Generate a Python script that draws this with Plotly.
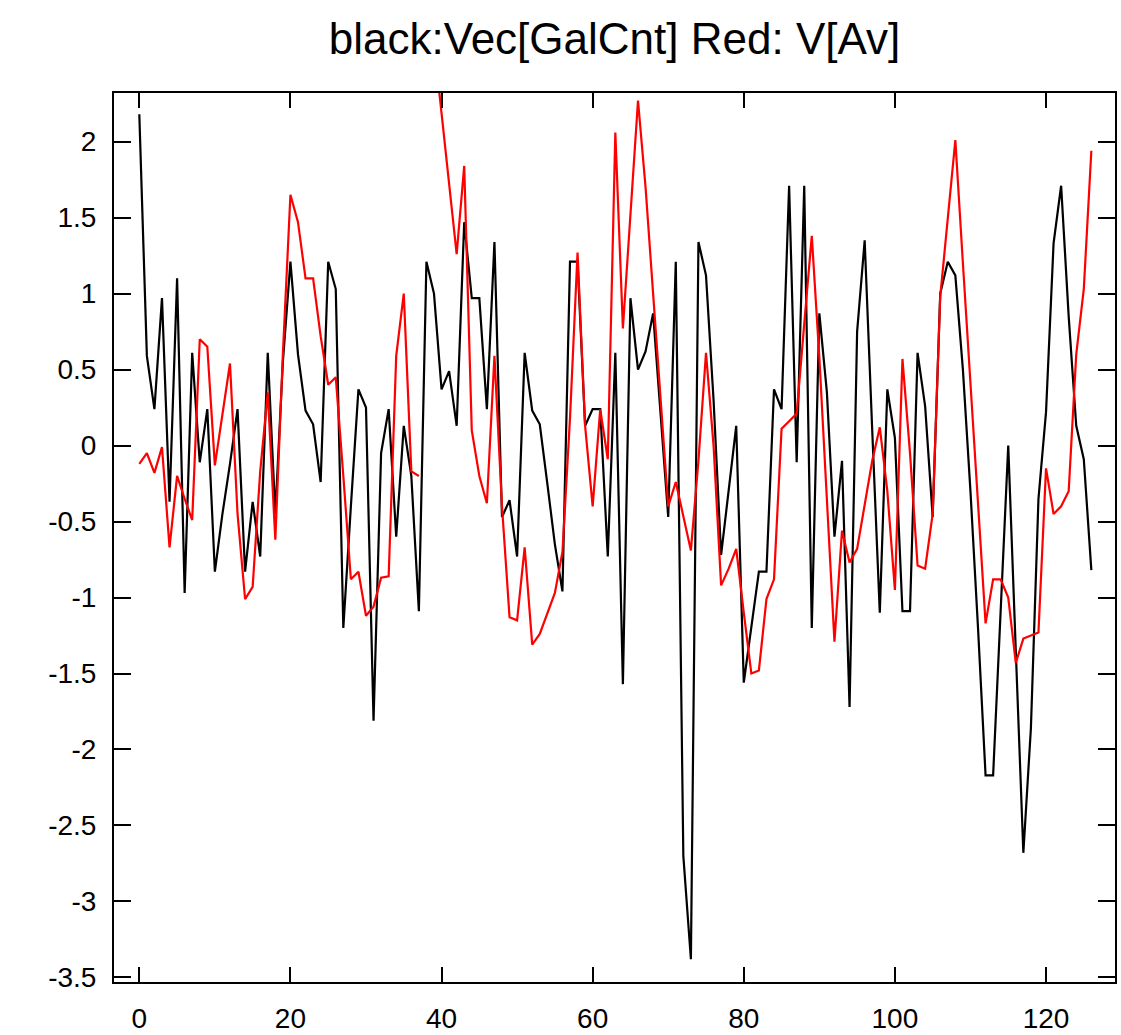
import plotly.graph_objects as go

# x positions (index of each sample)
n_points = 127
x_index = list(range(n_points))

# black: Vec[GalCnt]
vec_galcnt = [
    2.18, 0.59, 0.24, 0.97, -0.37, 1.10, -0.97, 0.61, -0.11, 0.24,
    -0.83, -0.45, -0.12, 0.24, -0.83, -0.37, -0.73, 0.61, -0.45, 0.55,
    1.21, 0.60, 0.23, 0.14, -0.24, 1.21, 1.03, -1.20, -0.40, 0.37,
    0.25, -1.81, -0.05, 0.24, -0.60, 0.13, -0.20, -1.09, 1.21, 1.00,
    0.37, 0.49, 0.13, 1.47, 0.97, 0.97, 0.24, 1.34, -0.47, -0.36,
    -0.73, 0.61, 0.23, 0.14, -0.25, -0.65, -0.96, 1.21, 1.21, 0.13,
    0.24, 0.24, -0.73, 0.61, -1.57, 0.97, 0.50, 0.62, 0.87, 0.22,
    -0.47, 1.21, -2.70, -3.38, 1.34, 1.12, 0.30, -0.72, -0.30, 0.13,
    -1.56, -1.20, -0.83, -0.83, 0.37, 0.24, 1.71, -0.11, 1.71, -1.20,
    0.87, 0.35, -0.60, -0.10, -1.72, 0.75, 1.35, 0.10, -1.10, 0.37,
    0.05, -1.09, -1.09, 0.61, 0.26, -0.47, 1.00, 1.21, 1.12, 0.50,
    -0.30, -1.20, -2.17, -2.17, -1.10, 0.00, -1.35, -2.68, -1.86, -0.35,
    0.22, 1.33, 1.71, 0.85, 0.13, -0.09, -0.82,
]

# red: V[Av]  (None = missing sample, drawn as a gap)
v_av = [
    -0.12, -0.05, -0.18, -0.01, -0.67, -0.20, -0.35, -0.49, 0.70, 0.65,
    -0.13, 0.20, 0.54, -0.45, -1.01, -0.93, -0.17, 0.35, -0.62, 0.60,
    1.65, 1.47, 1.10, 1.10, 0.72, 0.40, 0.45, -0.20, -0.88, -0.83,
    -1.12, -1.06, -0.87, -0.86, 0.59, 1.00, -0.17, -0.20, None, 2.65,
    2.19, 1.73, 1.26, 1.84, 0.10, -0.20, -0.38, 0.59, -0.40, -1.13,
    -1.15, -0.67, -1.31, -1.24, -1.10, -0.97, -0.70, 0.18, 1.27, 0.13,
    -0.40, 0.24, -0.09, 2.06, 0.77, 1.55, 2.27, 1.70, 1.00, 0.25,
    -0.40, -0.24, -0.46, -0.69, -0.10, 0.61, 0.00, -0.92, -0.81, -0.68,
    -1.10, -1.50, -1.48, -1.01, -0.88, 0.11, 0.16, 0.21, 0.80, 1.38,
    0.58, -0.32, -1.29, -0.56, -0.77, -0.68, -0.38, -0.10, 0.12, -0.30,
    -0.95, 0.57, -0.05, -0.79, -0.81, -0.45, 0.98, 1.50, 2.01, 1.20,
    0.40, -0.40, -1.17, -0.88, -0.88, -1.00, -1.43, -1.27, -1.25, -1.23,
    -0.15, -0.45, -0.40, -0.30, 0.60, 1.03, 1.94,
]

x_ticks = [0, 20, 40, 60, 80, 100, 120]
y_ticks = [-3.5, -3, -2.5, -2, -1.5, -1, -0.5, 0, 0.5, 1, 1.5, 2]
y_tick_text = [("%g" % v) for v in y_ticks]

title_text = "black:Vec[GalCnt] Red: V[Av]"

fig = go.Figure()
fig.add_trace(go.Scatter(
    x=x_index, y=vec_galcnt, mode="lines",
    line=dict(color="black", width=2.2), showlegend=False,
))
fig.add_trace(go.Scatter(
    x=x_index, y=v_av, mode="lines",
    line=dict(color="red", width=2.2), showlegend=False,
    connectgaps=False,
))

font_family = "Liberation Sans, Arial, Helvetica, sans-serif"

fig.update_layout(
    width=1121, height=1035,
    margin=dict(l=114, r=6, t=93, b=53, pad=0, autoexpand=False),
    paper_bgcolor="white", plot_bgcolor="white",
    title=dict(text=title_text, x=0.5, xref="paper", y=0.963, yref="container",
               xanchor="center", yanchor="middle",
               font=dict(family=font_family, size=44, color="black")),
    font=dict(family=font_family, size=27, color="black"),
)
fig.update_xaxes(
    range=[-3.35, 129.13], tickvals=x_ticks, ticktext=[str(v) for v in x_ticks],
    showgrid=False, zeroline=False, showline=True, linecolor="black", linewidth=2,
    mirror="ticks", ticks="inside", ticklen=15, tickwidth=2, tickcolor="black",
    tickfont=dict(size=28), ticklabelstandoff=10, automargin=False,
)
fig.update_yaxes(
    range=[-3.53, 2.32], tickvals=y_ticks, ticktext=y_tick_text,
    showgrid=False, zeroline=False, showline=True, linecolor="black", linewidth=2,
    mirror="ticks", ticks="inside", ticklen=17, tickwidth=2, tickcolor="black",
    tickfont=dict(size=28), ticklabelstandoff=10, automargin=False,
)

fig.write_html("out.html")
